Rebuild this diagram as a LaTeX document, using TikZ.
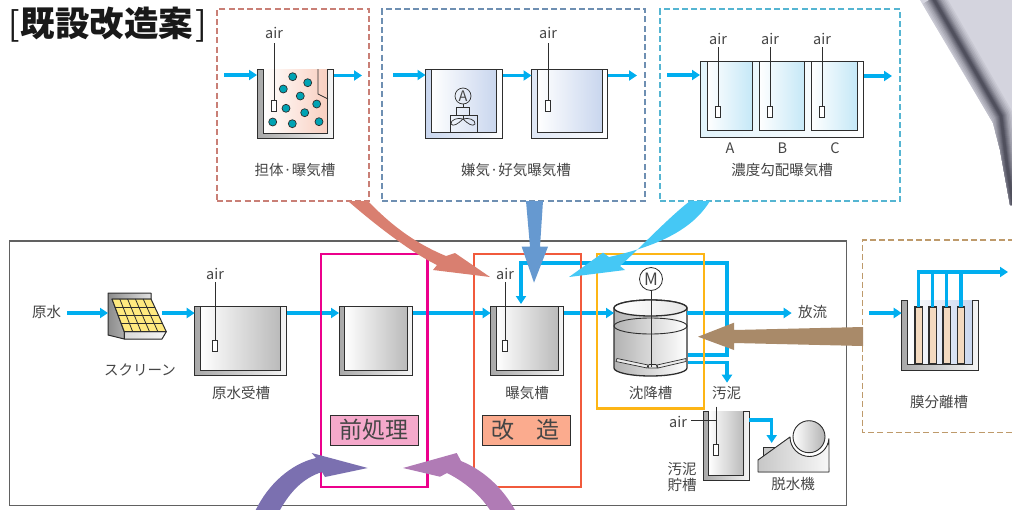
\documentclass[tikz,border=0pt]{standalone}
\usepackage{fontspec}
\setmainfont{Noto Sans CJK JP}
\newfontfamily\titlefont{Noto Sans CJK JP Black}
\usetikzlibrary{arrows.meta,calc}
\definecolor{flowcyan}{HTML}{00AEEF}
\definecolor{ink}{HTML}{454545}
\definecolor{tankline}{HTML}{2E2E2E}
\definecolor{roseedge}{HTML}{C97F76}
\definecolor{blueedge}{HTML}{6E8FB2}
\definecolor{tealedge}{HTML}{55B5D2}
\definecolor{tanedge}{HTML}{BE9A6B}
\definecolor{arrowrose}{HTML}{D97F70}
\definecolor{arrowblue}{HTML}{6699D0}
\definecolor{arrowsky}{HTML}{45C8F5}
\definecolor{arrowtan}{HTML}{A98A69}
\definecolor{arrowviolet}{HTML}{7B70B0}
\definecolor{arrowmauve}{HTML}{B07BB5}
\definecolor{sheet}{HTML}{D4D4DE}
\definecolor{sheetC}{HTML}{4A4A58}
\definecolor{panel}{HTML}{FFE97F}
\definecolor{pretag}{HTML}{F5A9CB}
\definecolor{modtag}{HTML}{FBAB8E}
\definecolor{prebox}{HTML}{EC008C}
\definecolor{modbox}{HTML}{F15A3C}
\definecolor{setbox}{HTML}{FDB515}
\definecolor{bluewater}{HTML}{C9D6EE}
\definecolor{skywater}{HTML}{C5E8F7}
\definecolor{memfill}{HTML}{F3D9BF}
\definecolor{bubblefill}{HTML}{00A3B4}
\definecolor{pinkfill}{HTML}{F9CFC0}
\tikzset{
  lab/.style={text=ink,font=\fontsize{14.5}{16}\selectfont,inner sep=0pt,align=center},
  bigfont/.style={text=ink,font=\fontsize{23}{25}\selectfont,inner sep=0pt},
  flow/.style={draw=flowcyan,line width=3.2pt,-{Triangle[length=8pt,width=10pt]}},
  flowplain/.style={draw=flowcyan,line width=3.2pt},
  pipe/.style={draw=tankline,line width=.85pt},
  diffuser/.style={draw=tankline,fill=white,line width=.8pt},
  dashbox/.style={line width=1.7pt,dash pattern=on 6pt off 3.2pt,outer sep=0pt},
  framebox/.style={line width=2.4pt,outer sep=0pt,inner sep=0pt,anchor=north west},
  gwall/.style={left color=black!34,right color=black!4},
  gwater/.style={left color=white,right color=black!27},
  pinkwater/.style={left color=white,right color=pinkfill},
  bwall/.style={left color=bluewater,right color=white},
  bwater/.style={left color=white,right color=bluewater},
  bwall2/.style={left color=bluewater!60,right color=white},
  cwater/.style={left color=white,right color=skywater},
  memwater/.style={left color=white,right color=bluewater},
  bubble/.style={circle,draw=tankline,fill=bubblefill,line width=.7pt,minimum size=8pt,inner sep=0pt},
  tag/.style={draw=tankline,line width=.8pt,minimum width=88pt,minimum height=30pt,inner sep=0pt,outer sep=0pt},
}
% Tank in section: name, x0, y0, x1, y1, wall, floor y, wall style, water style
\newcommand\vessel[9]{%
  \node[anchor=north west,minimum width={(#4-#2)*1pt},minimum height={(#5-#3)*1pt},inner sep=0pt,outer sep=0pt] (#1) at (#2,#3) {};
  \path[#9] (#2+#6,#3) rectangle (#4-#6,#7);
  \path[#8,draw=tankline,line width=1pt,line join=miter]
    (#2,#3) -- (#2,#5) -- (#4,#5) -- (#4,#3) -- (#4-#6,#3) -- (#4-#6,#7) -- (#2+#6,#7) -- (#2+#6,#3) -- cycle;
}
\newcommand\airpipe[4]{% name, x, top y, pipe bottom y
  \draw[pipe] (#2,#3) -- (#2,#4);
  \node[diffuser,anchor=north,minimum width=4.6pt,minimum height=11pt,inner sep=0pt,outer sep=0pt] (#1) at (#2,#4) {};
}
\begin{document}
\begin{tikzpicture}[x=1pt,y=-1pt]
\useasboundingbox (0,0) rectangle (1012,509);

% corner of the metal sheet at top right: nested strokes give the soft dark fold
\begin{scope}
  \clip (920,0) -- (993,123) -- (1000,150) -- (1010,205) -- (1012,205) -- (1012,0) -- cycle;
  \fill[sheet] (915,0) rectangle (1012,210);
  \foreach \w/\p in {24/8,21/16,18/26,15/36,12/48,10/58,8/68,6/78,4/88,2.5/96}
    \draw[sheetC!\p!sheet,line width=\w pt,line join=round] (933,-2) -- (1001,116) -- (1007,165) -- (1014,210);
\end{scope}

% title
\node[anchor=west,inner sep=0pt,text=black!90] (title) at (8,25)
  {\fontsize{34}{36}\selectfont[\hspace{1pt}{\titlefont\fontsize{34.5}{36}\selectfont 既設改造案}\hspace{2pt}]};

% option frames
\node[draw=roseedge,dashbox,anchor=north west,minimum width=152pt,minimum height=192pt,inner sep=0pt] (optA) at (217,9) {};
\node[draw=blueedge,dashbox,anchor=north west,minimum width=263pt,minimum height=192pt,inner sep=0pt] (optB) at (382,9) {};
\node[draw=tealedge,dashbox,anchor=north west,minimum width=240pt,minimum height=192pt,inner sep=0pt] (optC) at (660,9) {};
\draw[tanedge,dashbox] (1014,240) -- (862.5,240) -- (862.5,432.5) -- (1014,432.5);

% media carrier tank
\vessel{carrier}{257}{69}{333}{138}{6}{133}{gwall}{pinkwater}
\foreach \bx/\by/\bn in {292.7/76.7/a,307.7/82.7/b,283.3/89/c,300.3/96/d,316.7/104/e,286/108.3/f,304.7/112.7/g,272.7/122/h,292.3/123.7/i,319/121.7/j}
  \node[bubble] (b\bn) at (\bx,\by) {};
\draw[pipe] (318,69) -- (318,94) -- (328,99);
\airpipe{carrierAir}{274}{43}{100}
\node[lab] (carrierAirL) at (274,33) {air};
\coordinate (cIn) at (224,75); \coordinate (cOut) at (334,75.5); \coordinate (cEnd) at (362,75.5);
\draw[flow] (cIn) -- (cIn -| carrier.west);
\draw[flow] (cOut) -- (cEnd);
\node[lab] (carrierL) at (295,170.5) {担体·曝気槽};

% anaerobic and aerobic pair
\vessel{anox}{425.5}{69}{502}{138}{5.5}{132}{bwall}{bwater}
\vessel{oxic}{531.5}{69}{607.5}{138}{5.5}{132}{bwall2}{bwater}
\draw[pipe] (anox.north west) -- (anox.north east);
\draw[pipe] (oxic.north west) -- (oxic.north east);
\node[draw=tankline,circle,line width=.7pt,minimum size=16pt,inner sep=0pt,font=\fontsize{14.5}{15}\selectfont,text=ink] (motorA) at (463,96) {A};
\node[draw=tankline,fill=none,line width=.7pt,anchor=north,minimum width=13pt,minimum height=8pt,inner sep=0pt] (gearA) at (463,107) {};
\node[draw=tankline,line width=.7pt,anchor=north,minimum width=27pt,minimum height=17pt,inner sep=0pt] (mixA) at (463.5,115) {};
\draw[tankline,line width=.7pt] (motorA.south) -- (gearA.north);
\draw[tankline,line width=.7pt] (gearA.south) -- (463,119);
\draw[tankline,line width=.7pt] (463,119) .. controls (468,117) and (476,120) .. (475,124) .. controls (473,127) and (468,124) .. (463,119)
  .. controls (458,124) and (453,127) .. (451,124) .. controls (450,120) and (458,117) .. (463,119);
\airpipe{oxicAir}{548}{43}{100}
\node[lab] (oxicAirL) at (548,33) {air};
\coordinate (aIn) at (393,75); \coordinate (aOut) at (503,75.5); \coordinate (oOut) at (608,75.5); \coordinate (oEnd) at (637,75.5);
\draw[flow] (aIn) -- (aIn -| anox.west);
\draw[flow] (aOut) -- (aOut -| oxic.west);
\draw[flow] (oOut) -- (oEnd);
\node[lab] (pairL) at (516,170.5) {嫌気·好気曝気槽};

% stepped-concentration tank with three chambers
\node[anchor=north west,minimum width=163pt,minimum height=75.5pt,inner sep=0pt,outer sep=0pt,draw=tankline,line width=1pt,left color=skywater!50,right color=white] (grad) at (700,61.7) {};
\foreach \cx/\cn in {707/A,759/B,811.5/C}{
  \node[anchor=north west,minimum width=45.6pt,minimum height=68.3pt,inner sep=0pt,outer sep=0pt,draw=tankline,line width=1pt,cwater] (cell\cn) at (\cx,61.7) {};
}
\draw[pipe] (grad.north west) -- (grad.north east);
\foreach \px/\cn in {718/A,770/B,822/C}{
  \airpipe{air\cn}{\px}{47}{106}
  \node[lab] (airL\cn) at (\px,39) {air};
}
\node[lab] (labA) at (730,148.5) {A};
\node[lab] (labB) at (782.4,148.5) {B};
\node[lab] (labC) at (835,148.5) {C};
\coordinate (gIn) at (667,75); \coordinate (gOut) at (864,76); \coordinate (gEnd) at (892,76);
\draw[flow] (gIn) -- (gIn -| grad.west);
\draw[flow] (gOut) -- (gEnd);
\node[lab] (gradL) at (782,170.5) {濃度勾配曝気槽};

% outer frame of the existing plant
\node[draw=black!62,line width=1.1pt,anchor=north west,outer sep=0pt,minimum width=837pt,minimum height=264.5pt,inner sep=0pt] (plant) at (9.3,241) {};

% raw water screen
\node[minimum width=59pt,minimum height=47pt,inner sep=0pt,outer sep=0pt] (scr) at (137.5,316) {};
\filldraw[left color=black!45,right color=black!12,draw=tankline,line width=1pt,line join=round]
  (108,293) -- (151,293) -- (151,299) -- (112,299) -- (124.3,332) -- (124.3,339) -- (108,335) -- cycle;
\filldraw[left color=black!15,right color=black!4,draw=tankline,line width=1pt,line join=round]
  (124.3,331.7) -- (166.3,331.7) -- (162,339) -- (124.3,339) -- cycle;
\coordinate (TL) at (112,299); \coordinate (TR) at (151,299); \coordinate (BR) at (166.3,331.7); \coordinate (BL) at (124.3,331.7);
\filldraw[fill=panel,draw=tankline,line width=1pt,line join=round] (TL) -- (TR) -- (BR) -- (BL) -- cycle;
\foreach \t in {.2,.4,.6,.8}
  \draw[tankline,line width=.8pt] ($(TL)!\t!(TR)$) -- ($(BL)!\t!(BR)$);
\foreach \t in {.25,.5,.75}
  \draw[tankline,line width=.8pt] ($(TL)!\t!(BL)$) -- ($(TR)!\t!(BR)$);

% process tanks
\vessel{rawT}{194.7}{306}{286}{375}{5.5}{370}{gwall}{gwater}
\draw[pipe] (rawT.north west) -- (rawT.north east);
\airpipe{rawAir}{215}{282}{340}
\vessel{preT}{339}{306}{412.7}{375}{5.5}{370}{gwall}{gwater}
\draw[pipe] (preT.north west) -- (preT.north east);
\vessel{aerT}{490.7}{306}{563.7}{375}{5.5}{370}{gwall}{gwater}
\draw[pipe] (aerT.north west) -- (aerT.north east);
\airpipe{aerAir}{505}{282}{340}
\vessel{sumpT}{703}{411.7}{749}{480.7}{5.2}{475}{gwall}{gwater}
\draw[pipe] (716,406.7) -- (716,444);
\node[diffuser,anchor=north,minimum width=4.6pt,minimum height=11pt,inner sep=0pt,outer sep=0pt] (sumpAir) at (716,444) {};
\node[lab] (sumpAirL) at (678,421.5) {air};
\coordinate (sumpTee) at (716,420);
\draw[tankline,line width=.8pt] (sumpAirL.east |- sumpTee) ++(4,0) -- (sumpTee);

% settling tank
\node[minimum width=73pt,minimum height=76pt,inner sep=0pt,outer sep=0pt] (settle) at (650.5,338) {};
\draw[left color=black!30,right color=white,draw=tankline,line width=1.3pt]
  (614,308) -- (614,368) arc[start angle=180,end angle=360,x radius=36.5pt,y radius=8pt] -- (687,308)
  arc[start angle=0,end angle=180,x radius=36.5pt,y radius=8pt] -- cycle;
\draw[left color=white,right color=black!10,draw=tankline,line width=1.3pt] (650.5,308) ellipse[x radius=36.5pt,y radius=8pt];
\draw[tankline,line width=.9pt] (650.5,326) ellipse[x radius=36.5pt,y radius=8pt];
\filldraw[fill=black!8,draw=tankline,line width=.7pt,line join=round]
  (617,358.5) -- (648,365) -- (647,368) -- (616,361.5) -- cycle;
\filldraw[fill=black!8,draw=tankline,line width=.7pt,line join=round]
  (686,358.5) -- (657,365) -- (658,368) -- (686,361.5) -- cycle;
\filldraw[fill=black!8,draw=tankline,line width=.7pt] (648,368) -- (649,364.5) -- (656,364.5) -- (657.5,368) -- cycle;
\node[draw=tankline,fill=white,circle,line width=.8pt,minimum size=23pt,inner sep=0pt,font=\fontsize{17}{18}\selectfont,text=ink] (motorM) at (651,279) {M};
\draw[tankline,line width=.9pt] (motorM.south) -- (651,367);

% dewatering machine
\node[minimum width=71pt,minimum height=52pt,inner sep=0pt,outer sep=0pt] (press) at (793.5,446) {};
\filldraw[fill=black!22,draw=tankline,line width=.9pt] (763,447) rectangle (776,460);
\filldraw[left color=black!22,right color=black!3,draw=tankline,line width=.9pt,line join=round]
  (758,460) -- (790,437) arc[start angle=180,end angle=355,radius=19.5pt] -- (829,472) -- (758,472) -- cycle;
\filldraw[left color=white,right color=black!30,draw=tankline,line width=.9pt] (809,436.7) circle[radius=16pt];

% flow lines of the plant
\coordinate (rawIn) at (67,313); \coordinate (scrOut) at (162,313); \coordinate (rawOut) at (287,313);
\coordinate (preOut) at (413,313); \coordinate (aerOut) at (564,313); \coordinate (setOut) at (687,313); \coordinate (dischg) at (791.7,313);
\draw[flow] (rawIn) -- (rawIn -| scr.west);
\draw[flow] (scrOut) -- (scrOut -| rawT.west);
\draw[flow] (rawOut) -- (rawOut -| preT.west);
\draw[flow] (preOut) -- (preOut -| aerT.west);
\draw[flow] (aerOut) -- (aerOut -| settle.west);
\draw[flow] (setOut) -- (dischg);
\coordinate (retA) at (688,355); \coordinate (retB) at (727,355); \coordinate (retC) at (727,263); \coordinate (retD) at (521,263); \coordinate (retE) at (521,304);
\draw[flow,line join=miter] (retA) -- (retB) -- (retC) -- (retD) -- (retE);
\coordinate (wasA) at (688,362.7); \coordinate (wasB) at (727,362.7); \coordinate (wasC) at (727,382.7);
\draw[flow,line join=miter] (wasA) -- (wasB) -- (wasC);
\coordinate (sumpOut) at (749,420); \coordinate (sumpBend) at (771.7,420); \coordinate (pressIn) at (771.7,443);
\draw[flow,line join=miter] (sumpOut) -- (sumpBend) -- (pressIn);

% plant section frames
\node[draw=prebox,framebox,minimum width=106.5pt,minimum height=233pt] (preBox) at (321,254) {};
\node[draw=modbox,framebox,minimum width=107pt,minimum height=233pt] (modBox) at (474,254) {};
\node[draw=setbox,framebox,minimum width=107pt,minimum height=154.5pt] (setBox) at (597,254) {};
\node[tag,fill=pretag] (preTag) at (374.3,430) {};
\node[bigfont] (preTagL) at (374.3,429.5) {前処理};
\node[tag,fill=modtag] (modTag) at (526.7,430) {};
\node[bigfont] (modTagL1) at (503,429.5) {改};
\node[bigfont] (modTagL2) at (548,429.5) {造};

% membrane tank
\vessel{memT}{901.7}{300.7}{978}{370}{5.3}{364}{gwall}{memwater}
\foreach \mx/\mc in {915/a,929/b,943/c,957.3/d}{
  \node[draw=tankline,fill=memfill,line width=1.1pt,anchor=north west,minimum width=7.4pt,minimum height=57pt,inner sep=0pt,outer sep=0pt] (mem\mc) at (\mx,307) {};
}
\coordinate (memHead) at (918.7,272); \coordinate (memEnd) at (1008,272); \coordinate (memIn) at (869,313);
\foreach \mc in {a,b,c,d}
  \draw[flowplain] (mem\mc.north) -- (mem\mc.north |- memHead);
\draw[flow] (memHead) ++(-1.6,0) -- (memEnd);
\draw[flow] (memIn) -- (memIn -| memT.west);
\node[lab] (memL) at (939,402) {膜分離槽};

% large arrows pointing out where each option applies
\fill[arrowrose]
  (368,201) .. controls (388,222) and (412,242) .. (446,256) -- (455,253) -- (490,277) -- (433,270) -- (437,265)
  .. controls (410,252) and (372,222) .. (348,201) -- cycle;
\fill[arrowblue]
  (526,201) -- (543,201) -- (540,246.7) -- (548,246.7) -- (534,282.7) -- (521.7,246.7) -- (530,246.7) -- cycle;
\fill[arrowsky]
  (710,201) .. controls (697,222) and (672,243) .. (609,257) -- (603,252.7) -- (569,277) -- (625,270) -- (620,266)
  .. controls (638,250) and (668,218) .. (690,201) -- cycle;
\fill[arrowtan]
  (863,327) -- (863,346) -- (734,343) -- (734,350) -- (698,336.7) -- (734,322.7) -- (734,330) -- cycle;
\fill[arrowviolet]
  (255.7,510) .. controls (268,485) and (290,464) .. (316,458) -- (311.7,453) -- (367.7,468) -- (325,477) -- (322,472)
  .. controls (303,478) and (290,492) .. (280,510) -- cycle;
\fill[arrowmauve]
  (515,510) .. controls (502,487) and (483,470) .. (461,461) -- (456.7,453) -- (403,468) -- (440,476.7) -- (447,473)
  .. controls (465,482) and (480,495) .. (490,510) -- cycle;

% labels on the plant
\node[lab] (rawInL) at (46.5,312) {原水};
\node[lab] (scrL) at (140,369.5) {スクリーン};
\node[lab] (rawAirL) at (215,273.5) {air};
\node[lab] (rawTL) at (241,392.7) {原水受槽};
\node[lab] (aerAirL) at (505,273.5) {air};
\node[lab] (aerTL) at (527,392.7) {曝気槽};
\node[lab] (setTL) at (650.7,392.7) {沈降槽};
\node[lab] (sludgeL) at (726.7,392.7) {汚泥};
\node[lab] (dischgL) at (812.7,312) {放流};
\node[lab] (sumpL) at (682,477) {汚泥\\貯槽};
\node[lab] (pressL) at (793,484) {脱水機};
\end{tikzpicture}
\end{document}
